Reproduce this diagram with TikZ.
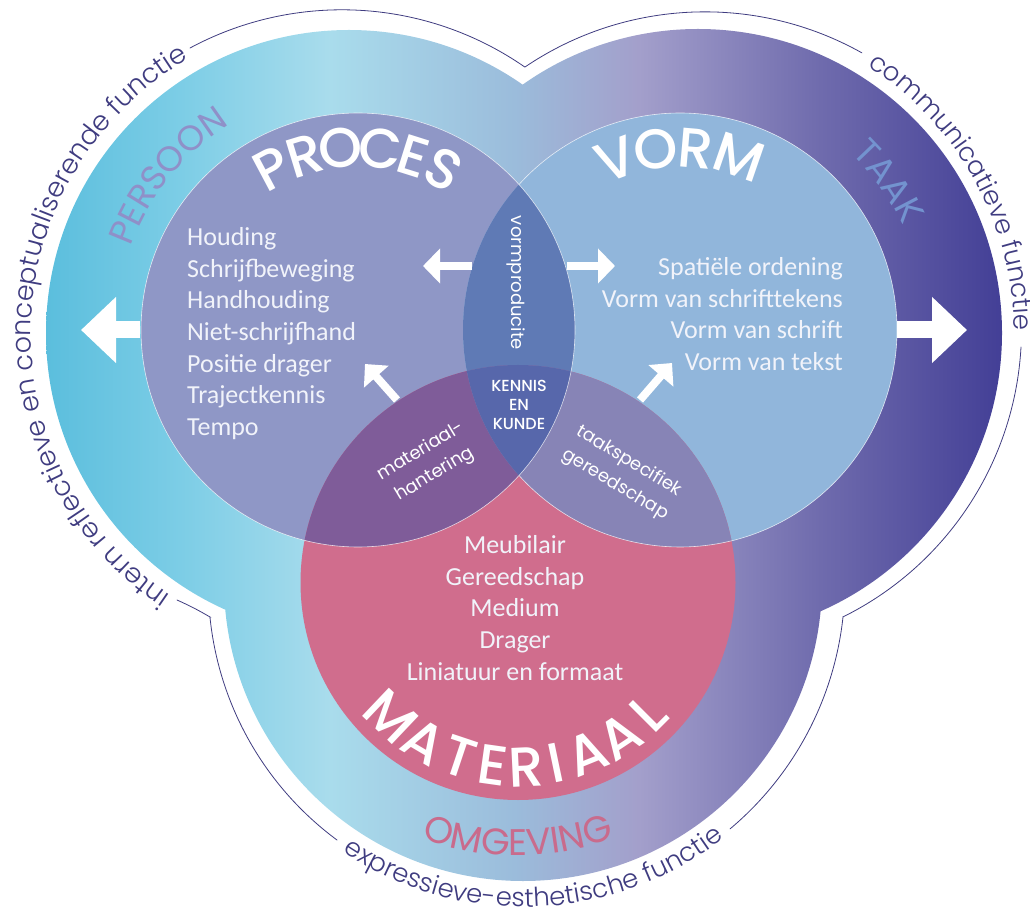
\documentclass[tikz,border=0pt]{standalone}
\usepackage{fontspec}
\setmainfont{Carlito}
\newfontfamily\geo{Poppins Light}
\newfontfamily\geom{Poppins}
\newfontfamily\geomed{Poppins Medium}
\usetikzlibrary{decorations.text,arrows.meta}
\definecolor{c1}{HTML}{5BBEDD}
\definecolor{c2}{HTML}{7CCDE6}
\definecolor{c3}{HTML}{A9DCEC}
\definecolor{c4}{HTML}{9BBCDB}
\definecolor{c5}{HTML}{A39FCB}
\definecolor{c6}{HTML}{6F6BAD}
\definecolor{c7}{HTML}{433F96}
\definecolor{proc}{HTML}{8F97C6}
\definecolor{vorm}{HTML}{91B6DB}
\definecolor{mat}{HTML}{D06D8D}
\definecolor{lensPV}{HTML}{5F7AB5}
\definecolor{lensPM}{HTML}{7F5C99}
\definecolor{lensVM}{HTML}{8784B6}
\definecolor{lensAll}{HTML}{5767AB}
\definecolor{ringc}{HTML}{3F3C80}
\definecolor{persc}{HTML}{8F90C8}
\definecolor{taakc}{HTML}{7393CF}
\definecolor{omgc}{HTML}{C96B8C}
\definecolor{listc}{HTML}{F1F3FA}
\pgfdeclarehorizontalshading{blobshade}{100bp}{color(0bp)=(c1); color(25bp)=(c1); color(32bp)=(c2); color(39.85bp)=(c3); color(49.5bp)=(c4); color(56bp)=(c5); color(65.5bp)=(c6); color(75bp)=(c7); color(100bp)=(c7)}
\newcommand\ringfont{\geo\fontsize{27}{27}\selectfont\color{ringc}}
\newcommand\ringfontb{\geo\fontsize{26}{26}\selectfont\color{ringc}}
\newcommand\persfont{\geom\fontsize{35}{35}\selectfont\color{persc}}
\newcommand\taakfont{\geom\fontsize{36}{36}\selectfont\color{taakc}}
\newcommand\omgfont{\geom\fontsize{37}{37}\selectfont\color{omgc}}
\tikzset{
  x=1pt,y=1pt,
  ringline/.style={draw=ringc,line width=0.8pt,line cap=round},
  rim/.style={draw=white,line width=0.6pt,opacity=0.75},
  bigarrow/.style={draw=white,line width=17pt,-{Triangle[length=35pt,width=64pt,fill=white]}},
  smallarrow/.style={draw=white,line width=8pt,-{Triangle[length=17pt,width=34pt,fill=white]}},
  diagarrow/.style={draw=white,line width=8pt,-{Triangle[length=17pt,width=32pt,fill=white]}},
  listtext/.style={font=\fontsize{26}{31.6}\selectfont,text=listc,inner sep=0pt},
  smalllabel/.style={font=\geom\fontsize{18}{27}\selectfont,text=white,inner sep=0pt,align=center},
  titleletter/.style={font=\geomed\fontsize{56}{56}\selectfont,text=white,inner sep=0pt,anchor=base},
  matletter/.style={font=\geomed\fontsize{56}{56}\selectfont,text=white,inner sep=0pt,anchor=base},
}
\begin{document}
\begin{tikzpicture}
\useasboundingbox (0,0) rectangle (1030,914);
% centres
\coordinate (P) at (358,584);
\coordinate (V) at (680,584);
\coordinate (M) at (518,331.5);
\coordinate (LL) at (349,581);
\coordinate (LLt) at (347,581);
\coordinate (LR) at (698,581);
\coordinate (LB) at (523,332);
\coordinate (LBt) at (524,332);
% outer blob
\shade[shading=blobshade] (LL) circle[radius=303] (LR) circle[radius=304] (LB) circle[radius=299];
% circles
\fill[proc] (P) circle[radius=217];
\fill[vorm] (V) circle[radius=217];
\fill[mat] (M) circle[radius=217.5];
\begin{scope}\clip (P) circle[radius=217]; \fill[lensPV] (V) circle[radius=217];\end{scope}
\begin{scope}\clip (P) circle[radius=217]; \fill[lensPM] (M) circle[radius=217.5];\end{scope}
\begin{scope}\clip (V) circle[radius=217]; \fill[lensVM] (M) circle[radius=217.5];\end{scope}
\begin{scope}\clip (P) circle[radius=217]; \clip (V) circle[radius=217]; \fill[lensAll] (M) circle[radius=217.5];\end{scope}
\path[rim] (P) circle[radius=217];
\path[rim] (V) ++(-137.9:217) arc[start angle=-137.9,end angle=137.9,radius=217];
% ring lines
\coordinate (lt1) at (190,866);
\coordinate (notchT) at (525,847);
\coordinate (rb1) at (1021,567);
\coordinate (notchR) at (843,297);
\coordinate (bl1) at (337,74);
\coordinate (notchL) at (210,297);
\coordinate (ll2) at (177,314);
\draw[ringline] (lt1) arc[start angle=118.24,end angle=55.27,radius=321] -- (notchT) arc[start angle=124.09,end angle=60.72,radius=321];
\draw[ringline] (rb1) arc[start angle=-3.16,end angle=-63.65,radius=321] -- (notchR) arc[start angle=-6.17,end angle=-49.96,radius=322];
\draw[ringline] (bl1) arc[start angle=233.55,end angle=185.79,radius=317] -- (notchL) to[bend right=3] (ll2);
% ring texts
\path[decorate,decoration={text along path,text align=center,text={|\ringfont|intern reflectieve en conceptualiserende functie}}]
  (LLt) ++(238:316) arc[start angle=238,end angle=118,radius=316];
\path[decorate,decoration={text along path,text align=center,text={|\ringfontb|communicatieve functie}}]
  (LR) ++(60:316) arc[start angle=60,end angle=-2,radius=316];
\path[decorate,decoration={text along path,text align=center,text={|\ringfontb|expressieve-esthetische functie}}]
  (LBt) ++(236:325) arc[start angle=236,end angle=308,radius=325];
% zone titles
\path[decorate,decoration={text along path,text align=center,text={|\persfont|PERSOON}}]
  (P) ++(175:242) arc[start angle=175,end angle=107,radius=242];
\path[decorate,decoration={text along path,text align=center,text={|\taakfont|TAAK}}]
  (V) ++(58.5:246) arc[start angle=58.5,end angle=12.5,radius=246];
\path[decorate,decoration={text along path,text align=center,text={|\omgfont|OMGEVING}}]
  (M) ++(235:273) arc[start angle=235,end angle=305,radius=273];
% main titles, letter by letter
\foreach \ch/\ang [count=\i] in {P/118,R/107,O/95.5,C/83,E/72.5,S/62}
  \node[titleletter,rotate=\ang-90] (tp\i) at ([shift={(\ang:163)}]P) {\ch};
\foreach \ch/\ang [count=\i] in {V/110.5,O/97.5,R/85,M/71}
  \node[titleletter,rotate=\ang-90] (tv\i) at ([shift={(\ang:163)}]V) {\ch};
\foreach \ch/\ang [count=\i] in {M/226.5,A/239.5,T/251.5,E/262,R/272.7,I/281.8,A/292,A/303.6,L/315}
  \node[matletter,rotate=\ang-270] (tm\i) at ([shift={(\ang:204)}]M) {\ch};
% arrows
\coordinate (a1s) at (140,584); \coordinate (a1e) at (81,584);
\coordinate (a2s) at (897,584); \coordinate (a2e) at (967,584);
\coordinate (a3s) at (472,648); \coordinate (a3e) at (423,648);
\coordinate (a4s) at (567,648); \coordinate (a4e) at (615,648);
\coordinate (a5s) at (397,514); \coordinate (a5e) at (365,550);
\coordinate (a6s) at (640,514); \coordinate (a6e) at (672,551);
\draw[bigarrow] (a1s) -- (a1e);
\draw[bigarrow] (a2s) -- (a2e);
\draw[smallarrow] (a3s) -- (a3e);
\draw[smallarrow] (a4s) -- (a4e);
\draw[diagarrow] (a5s) -- (a5e);
\draw[diagarrow] (a6s) -- (a6e);
% lists
\node[listtext,anchor=west,align=left] (plist) at (187,580.5) {Houding\\Schrijfbeweging\\Handhouding\\Niet-schrijfhand\\Positie drager\\Trajectkennis\\Tempo};
\node[listtext,anchor=east,align=right] (vlist) at (843,600) {Spatiële ordening\\Vorm van schrifttekens\\Vorm van schrift\\Vorm van tekst};
\node[listtext,anchor=center,align=center] (mlist) at (515,306) {Meubilair\\Gereedschap\\Medium\\Drager\\Liniatuur en formaat};
% overlap labels
\node[smalllabel,rotate=-90] (lensv) at (516,631) {vormproducite};
\node[inner sep=0pt,align=center,text=white,font=\geomed\fontsize{16}{19}\selectfont] (kk) at (519,509) {KENNIS\\EN\\KUNDE};
\node[smalllabel,rotate=31] (lm) at (428,451) {materiaal-\\hantering};
\node[smalllabel,rotate=-31] (lt) at (622,441) {taakspecifiek\\gereedschap};
\end{tikzpicture}
\end{document}
